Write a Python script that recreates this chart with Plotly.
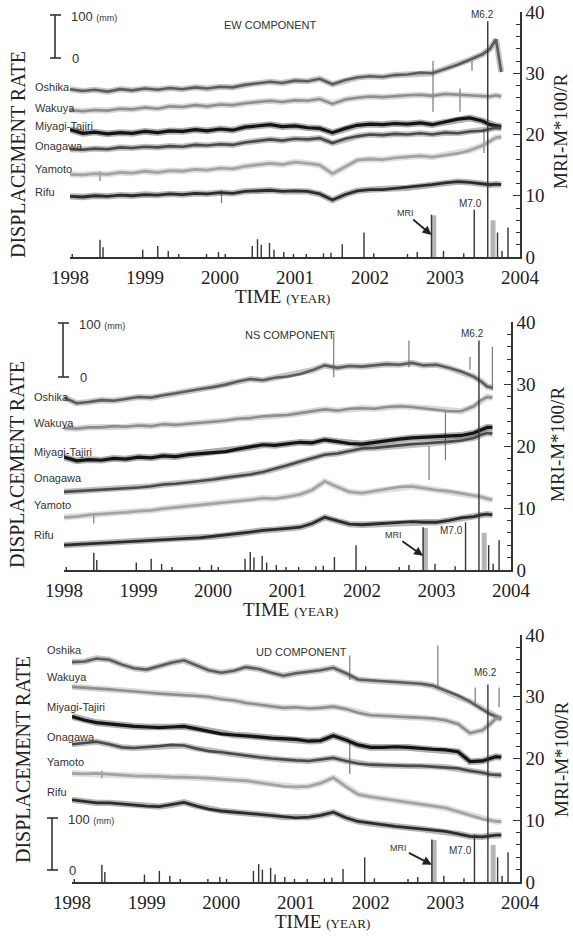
import plotly.graph_objects as go

W, H = 573, 936
SERIF = "Liberation Serif"
SANS = "Liberation Sans"

# Sampling epochs (decimal years) of the displacement-rate records
YEARS = [1998.00, 1998.17, 1998.33, 1998.50, 1998.67, 1998.83,
         1999.00, 1999.17, 1999.33, 1999.50, 1999.67, 1999.83,
         2000.00, 2000.17, 2000.33, 2000.50, 2000.67, 2000.83,
         2001.00, 2001.17, 2001.33, 2001.50, 2001.67, 2001.83,
         2002.00, 2002.17, 2002.33, 2002.50, 2002.67, 2002.83,
         2003.00, 2003.17, 2003.33, 2003.50, 2003.60, 2003.68, 2003.75]

STATIONS = ["Oshika", "Wakuya", "Miyagi-Tajiri", "Onagawa", "Yamoto", "Rifu"]
STATION_COLORS = ["#5c5c5c", "#8e8e8e", "#141414", "#4a4a4a", "#a3a3a3", "#2c2c2c"]
STATION_WIDTHS = [2.6, 2.6, 3.2, 2.6, 2.8, 2.8]

# EW component (offset traces, plotted on the MRI-M*100/R scale)
EW_OSHIKA = [27.4, 27.1, 27.3, 27.0, 27.4, 27.2, 27.5, 27.3, 27.6, 27.4, 27.7, 27.5,
             27.8, 27.7, 28.1, 28.3, 28.6, 28.4, 28.8, 28.7, 29.1, 28.2, 28.9, 29.3,
             29.5, 29.4, 29.7, 29.8, 30.1, 30.0, 30.7, 31.4, 32.2, 33.1, 34.0, 35.5, 30.2]
EW_WAKUYA = [24.0, 23.8, 24.0, 23.9, 24.2, 24.1, 24.4, 24.2, 24.6, 24.5, 24.8, 24.6,
             24.9, 24.8, 25.1, 25.3, 25.5, 25.3, 25.6, 25.5, 25.8, 25.0, 25.7, 26.0,
             26.2, 26.1, 26.3, 26.4, 26.5, 26.3, 26.6, 26.5, 26.4, 26.3, 26.2, 26.4, 26.2]
EW_MIYAGI = [20.8, 20.2, 20.4, 20.1, 20.3, 20.2, 20.5, 20.3, 20.6, 20.5, 20.8, 20.6,
             20.9, 20.7, 21.2, 21.4, 21.6, 21.3, 21.4, 21.1, 21.0, 20.3, 21.0, 21.5,
             21.7, 21.6, 21.8, 21.7, 21.9, 21.6, 22.0, 22.5, 22.7, 22.2, 21.6, 21.4, 21.3]
EW_ONAGAWA = [17.6, 17.5, 17.7, 17.6, 17.9, 17.8, 18.0, 17.9, 18.1, 18.0, 18.3, 18.2,
              18.4, 18.3, 18.7, 18.9, 19.2, 19.0, 19.3, 19.2, 19.4, 18.6, 19.3, 19.7,
              20.0, 19.9, 20.1, 20.0, 20.2, 20.0, 20.3, 20.2, 20.5, 20.6, 20.9, 21.1, 21.0]
EW_YAMOTO = [13.5, 13.4, 13.6, 13.5, 13.8, 13.7, 14.0, 13.8, 14.1, 14.0, 14.3, 14.2,
             14.5, 14.4, 14.8, 15.0, 15.3, 15.1, 15.5, 15.3, 15.0, 13.6, 14.8, 15.8,
             16.0, 15.9, 16.2, 16.3, 16.5, 16.3, 16.6, 16.9, 17.4, 18.2, 18.9, 19.5, 19.6]
EW_RIFU = [9.9, 9.8, 10.0, 9.9, 10.1, 10.0, 10.2, 10.1, 10.3, 10.2, 10.4, 10.3,
           10.5, 10.4, 10.7, 10.8, 10.9, 10.7, 10.8, 10.7, 10.3, 9.3, 10.2, 10.8,
           11.0, 11.0, 11.2, 11.3, 11.6, 11.8, 12.1, 12.3, 12.2, 11.9, 11.8, 11.9, 11.8]

# NS component
NS_OSHIKA = [27.8, 26.9, 27.1, 27.4, 27.3, 27.6, 27.9, 27.8, 28.2, 28.5, 28.9, 29.2,
             29.5, 29.9, 30.4, 30.8, 30.6, 31.0, 31.2, 31.6, 32.2, 33.0, 32.6, 32.9,
             32.8, 33.0, 33.2, 33.1, 33.4, 33.0, 33.1, 32.6, 32.0, 31.2, 30.4, 29.6, 29.4]
NS_WAKUYA = [22.9, 22.8, 23.0, 23.0, 23.2, 23.1, 23.3, 23.2, 23.5, 23.4, 23.6, 23.7,
             23.9, 24.1, 24.4, 24.5, 24.8, 24.9, 25.0, 25.3, 25.6, 25.9, 25.7, 26.0,
             26.1, 26.0, 26.3, 26.4, 26.3, 26.1, 25.9, 25.6, 25.6, 26.4, 27.4, 27.9, 27.8]
NS_MIYAGI = [18.2, 17.6, 17.8, 17.7, 18.0, 17.9, 18.2, 18.1, 18.4, 18.3, 18.6, 18.8,
             18.9, 19.1, 19.5, 19.8, 20.2, 20.1, 20.4, 20.6, 20.5, 21.0, 20.7, 20.4,
             20.3, 20.6, 20.9, 21.1, 21.3, 21.4, 21.5, 21.6, 21.7, 22.1, 22.6, 23.0, 23.0]
NS_ONAGAWA = [12.6, 12.7, 12.9, 13.0, 13.0, 13.1, 13.3, 13.5, 13.8, 13.9, 14.1, 14.3,
              14.6, 14.9, 15.1, 15.4, 15.8, 16.3, 16.9, 17.5, 18.0, 18.6, 18.8, 19.2,
              19.6, 19.7, 19.9, 20.1, 20.3, 20.4, 20.5, 20.7, 20.9, 21.3, 21.8, 22.1, 22.0]
NS_YAMOTO = [8.5, 8.6, 8.9, 9.0, 9.2, 9.3, 9.5, 9.6, 9.9, 10.1, 10.3, 10.5,
             10.7, 10.9, 11.1, 11.3, 11.6, 11.5, 11.8, 12.2, 12.9, 14.3, 13.4, 12.6,
             12.4, 12.7, 13.0, 13.4, 13.5, 13.2, 12.9, 12.7, 12.4, 12.1, 11.8, 11.5, 11.3]
NS_RIFU = [4.0, 4.1, 4.3, 4.4, 4.5, 4.5, 4.6, 4.8, 4.9, 5.0, 5.1, 5.2,
           5.4, 5.6, 5.9, 6.1, 6.4, 6.5, 6.7, 6.9, 7.5, 8.5, 7.9, 7.4,
           7.3, 7.4, 7.6, 7.7, 7.8, 7.7, 7.7, 8.0, 8.4, 8.6, 8.9, 9.0, 8.9]

# UD component
UD_OSHIKA = [35.6, 35.7, 36.2, 36.0, 35.2, 34.6, 34.4, 35.0, 35.5, 35.9, 35.1, 34.3,
             33.9, 34.2, 34.8, 34.5, 33.9, 33.4, 33.8, 34.0, 34.3, 34.7, 33.8, 32.8,
             32.6, 32.5, 32.4, 32.3, 32.1, 31.8, 31.0, 30.2, 29.2, 28.0, 27.2, 26.8, 26.4]
UD_WAKUYA = [31.6, 31.5, 31.4, 31.2, 31.0, 30.9, 30.7, 30.5, 30.4, 30.3, 30.2, 30.0,
             29.6, 29.4, 29.0, 28.7, 28.4, 28.2, 28.3, 28.1, 28.2, 28.4, 28.0, 27.4,
             27.0, 26.9, 26.7, 26.7, 26.6, 26.5, 26.2, 25.6, 24.1, 24.6, 25.6, 26.5, 26.6]
UD_MIYAGI = [26.8, 26.2, 25.8, 25.6, 25.3, 25.2, 25.1, 25.0, 25.1, 25.2, 24.8, 24.4,
             24.0, 23.8, 23.7, 23.5, 23.3, 23.2, 23.1, 22.8, 22.9, 23.7, 23.0, 22.2,
             21.8, 21.8, 21.9, 21.8, 21.6, 21.5, 21.4, 21.1, 19.5, 19.6, 20.0, 20.3, 20.2]
UD_ONAGAWA = [22.3, 22.5, 22.7, 22.3, 21.8, 21.7, 21.8, 22.0, 22.2, 22.1, 21.6, 21.2,
              21.0, 20.7, 20.4, 20.2, 20.0, 19.8, 19.7, 19.6, 19.8, 20.1, 19.6, 19.2,
              19.0, 18.9, 18.9, 18.8, 18.8, 18.7, 18.6, 18.4, 18.0, 17.7, 17.4, 17.3, 17.3]
UD_YAMOTO = [17.6, 17.5, 17.6, 17.4, 17.3, 17.2, 17.2, 17.1, 17.0, 17.0, 16.9, 16.8,
             16.6, 16.5, 16.4, 16.1, 15.8, 15.5, 15.4, 15.5, 16.0, 16.9, 15.4, 14.2,
             13.8, 13.5, 13.2, 13.0, 12.7, 12.4, 12.0, 11.4, 10.8, 10.2, 10.0, 9.8, 9.8]
UD_RIFU = [13.3, 13.0, 12.8, 12.8, 12.6, 12.4, 12.3, 12.2, 12.5, 12.9, 12.3, 11.8,
           11.5, 11.3, 11.2, 11.0, 10.8, 10.5, 10.4, 10.5, 10.8, 11.3, 10.4, 9.8,
           9.5, 9.2, 9.0, 8.8, 8.6, 8.4, 8.2, 7.8, 7.4, 7.3, 7.5, 7.6, 7.6]

# Short transient excursions in the records: epoch, low, high
EW_SPIKES_T = [1998.40, 2000.02, 2002.84, 2003.20, 2003.36, 2003.52]
EW_SPIKES_LO = [12.4, 8.8, 23.7, 23.7, 30.4, 17.0]
EW_SPIKES_HI = [14.0, 10.9, 32.0, 27.5, 32.0, 21.0]
NS_SPIKES_T = [1998.40, 2001.62, 2002.63, 2002.90, 2003.12, 2003.45, 2003.75]
NS_SPIKES_LO = [7.5, 31.1, 32.7, 14.5, 17.7, 32.3, 29.0]
NS_SPIKES_HI = [9.2, 38.2, 37.0, 20.0, 25.5, 34.4, 36.0]
UD_SPIKES_T = [1998.40, 2001.72, 2001.72, 2002.90, 2003.40, 2003.72]
UD_SPIKES_LO = [16.8, 32.7, 17.5, 31.5, 29.0, 28.3]
UD_SPIKES_HI = [18.0, 36.7, 23.0, 38.3, 31.5, 31.5]

# Earthquake index MRI-M*100/R (event epochs and values)
EVENT_T = [1998.03, 1998.40, 1998.44, 1998.97, 1999.17, 1999.31, 1999.45, 1999.82,
           1999.98, 2000.07, 2000.43, 2000.50, 2000.55, 2000.66, 2000.72, 2000.85,
           2000.98, 2001.15, 2001.38, 2001.48, 2001.63, 2001.92, 2002.05, 2002.50,
           2002.63, 2002.82, 2002.98, 2003.25, 2003.39, 2003.70, 2003.76, 2003.84]
EVENT_H = [0.5, 2.8, 1.6, 1.2, 1.8, 1.0, 0.5, 0.5,
           0.8, 0.5, 1.8, 2.9, 2.0, 2.3, 1.2, 0.8,
           0.5, 0.5, 0.6, 0.7, 2.1, 4.0, 0.6, 0.5,
           0.8, 6.9, 1.0, 0.6, 7.7, 4.0, 1.0, 4.8]
SHADE_T = [2002.85, 2003.64]
SHADE_H = [6.8, 6.0]
M62_T = 2003.57
M62_TOP = [38.5, 37.0, 32.0]      # EW, NS, UD
MRI_T = 2002.82
MRI_ARROW_Y = [3.6, 2.3, 2.8]

COMPONENTS = [
    dict(title="EW COMPONENT",
         series=[EW_OSHIKA, EW_WAKUYA, EW_MIYAGI, EW_ONAGAWA, EW_YAMOTO, EW_RIFU],
         spikes=(EW_SPIKES_T, EW_SPIKES_LO, EW_SPIKES_HI)),
    dict(title="NS COMPONENT",
         series=[NS_OSHIKA, NS_WAKUYA, NS_MIYAGI, NS_ONAGAWA, NS_YAMOTO, NS_RIFU],
         spikes=(NS_SPIKES_T, NS_SPIKES_LO, NS_SPIKES_HI)),
    dict(title="UD COMPONENT",
         series=[UD_OSHIKA, UD_WAKUYA, UD_MIYAGI, UD_ONAGAWA, UD_YAMOTO, UD_RIFU],
         spikes=(UD_SPIKES_T, UD_SPIKES_LO, UD_SPIKES_HI)),
]

# Page layout of the three panels (pixels)
GEOM = [
    dict(x0=70, x1=520, top=12, bot=257,
         labels_x=33, labels_y=[87, 108, 126, 146, 169, 192],
         title_xy=(270, 25), scale=(55, 15, 58), ylab=(18, 155), rlab=(561, 132),
         time_xy=(282, 296), m62=(483, 15), m70=(470, 203), mri=(-26, -22)),
    dict(x0=64, x1=511, top=322, bot=570,
         labels_x=32, labels_y=[397, 423, 452, 478, 505, 535],
         title_xy=(290, 335), scale=(63, 323, 377), ylab=(17, 465), rlab=(557, 445),
         time_xy=(290, 609), m62=(472, 333), m70=(451, 530), mri=(-30, -21)),
    dict(x0=72, x1=520, top=635, bot=882,
         labels_x=45, labels_y=[650, 677, 707, 737, 762, 792],
         title_xy=(301, 652), scale=(52, 818, 870), ylab=(23, 760), rlab=(561, 760),
         time_xy=(322, 921), m62=(485, 672), m70=(460, 850), mri=(-33, -17)),
]


def px(x, y):
    return x / W, 1 - y / H


def segments(ts, lo, hi):
    xs, ys = [], []
    for t, a, b in zip(ts, lo, hi):
        xs += [t, t, None]
        ys += [a, b, None]
    return xs, ys


fig = go.Figure()
annotations = []
shapes = []
layout_axes = {}

for i, (comp, g) in enumerate(zip(COMPONENTS, GEOM)):
    n = "" if i == 0 else str(i + 1)
    xa, ya = "x" + n, "y" + n

    # transient excursions
    spx, spy = segments(*comp["spikes"])
    fig.add_trace(go.Scatter(x=spx, y=spy, mode="lines", line=dict(color="#7a7a7a", width=1.2),
                             xaxis=xa, yaxis=ya, showlegend=False, hoverinfo="skip"))

    # displacement-rate traces: a soft halo under each record gives the noisy band
    for name, vals, col, lw in zip(STATIONS, comp["series"], STATION_COLORS, STATION_WIDTHS):
        fig.add_trace(go.Scatter(x=YEARS, y=vals, mode="lines", opacity=0.35,
                                 line=dict(color=col, width=lw + 3.5), xaxis=xa, yaxis=ya,
                                 showlegend=False, hoverinfo="skip"))
        fig.add_trace(go.Scatter(x=YEARS, y=vals, mode="lines", name=name,
                                 line=dict(color=col, width=lw), xaxis=xa, yaxis=ya,
                                 showlegend=False, hoverinfo="skip"))

    # earthquake index bars
    bx, by = segments(EVENT_T + [M62_T], [0] * (len(EVENT_T) + 1), EVENT_H + [M62_TOP[i]])
    sx, sy = segments(SHADE_T, [0] * len(SHADE_T), SHADE_H)
    fig.add_trace(go.Scatter(x=sx, y=sy, mode="lines", line=dict(color="#b5b5b5", width=5),
                             xaxis=xa, yaxis=ya, showlegend=False, hoverinfo="skip"))
    fig.add_trace(go.Scatter(x=bx, y=by, mode="lines", line=dict(color="#333333", width=1.4),
                             xaxis=xa, yaxis=ya, showlegend=False, hoverinfo="skip"))

    xd0, _ = px(g["x0"], 0)
    xd1, _ = px(g["x1"], 0)
    _, yd1 = px(0, g["top"])
    _, yd0 = px(0, g["bot"])
    layout_axes["xaxis" + n] = dict(
        domain=[xd0, xd1], anchor=ya, range=[1998, 2004], automargin=False,
        tickvals=[1998, 1999, 2000, 2001, 2002, 2003, 2004],
        ticktext=["1998", "1999", "2000", "2001", "2002", "2003", "2004"],
        showline=True, linecolor="#333333", linewidth=1.6, ticks="",
        showgrid=False, zeroline=False,
        tickfont=dict(family=SERIF, size=19, color="#222222"), ticklabelstandoff=2)
    layout_axes["yaxis" + n] = dict(
        domain=[yd0, yd1], anchor=xa, side="right", range=[0, 40], automargin=False,
        tickvals=[0, 10, 20, 30, 40], ticktext=["0", "10", "20", "30", "40"],
        showline=True, linecolor="#333333", linewidth=1.6,
        ticks="inside", ticklen=7, tickwidth=1.3, tickcolor="#333333",
        minor=dict(ticks="inside", ticklen=4, dtick=2, tickwidth=1, tickcolor="#333333"),
        showgrid=False, zeroline=False,
        tickfont=dict(family=SERIF, size=19, color="#222222"))

    # station names
    for name, ly in zip(STATIONS, g["labels_y"]):
        x, y = px(g["labels_x"], ly)
        annotations.append(dict(x=x, y=y, xref="paper", yref="paper", text=name,
                                showarrow=False, xanchor="left", yanchor="middle",
                                font=dict(family=SANS, size=11, color="#333333")))

    # component title
    x, y = px(*g["title_xy"])
    annotations.append(dict(x=x, y=y, xref="paper", yref="paper", text=comp["title"],
                            showarrow=False, xanchor="center", yanchor="middle",
                            font=dict(family=SANS, size=11, color="#333333")))

    # 100 mm scale bar
    sxp, st, sb = g["scale"]
    for (a, b, c, d) in [(sxp, st, sxp, sb), (sxp - 5, st, sxp + 6, st), (sxp - 5, sb, sxp + 6, sb)]:
        p0, p1 = px(a, b), px(c, d)
        shapes.append(dict(type="line", xref="paper", yref="paper", x0=p0[0], y0=p0[1],
                           x1=p1[0], y1=p1[1], line=dict(color="#333333", width=1.6)))
    x, y = px(sxp + 14, st + 1)
    annotations.append(dict(x=x, y=y, xref="paper", yref="paper",
                            text="100 <span style='font-size:9px'>(mm)</span>",
                            showarrow=False, xanchor="left", yanchor="middle",
                            font=dict(family=SANS, size=13, color="#333333")))
    x, y = px(sxp + 15, sb)
    annotations.append(dict(x=x, y=y, xref="paper", yref="paper", text="0",
                            showarrow=False, xanchor="left", yanchor="middle",
                            font=dict(family=SANS, size=13, color="#333333")))

    # axis titles
    x, y = px(*g["ylab"])
    annotations.append(dict(x=x, y=y, xref="paper", yref="paper", text="DISPLACEMENT RATE",
                            showarrow=False, textangle=-90, xanchor="center", yanchor="middle",
                            font=dict(family=SERIF, size=20, color="#222222")))
    x, y = px(*g["rlab"])
    annotations.append(dict(x=x, y=y, xref="paper", yref="paper", text="MRI-M*100/R",
                            showarrow=False, textangle=-90, xanchor="center", yanchor="middle",
                            font=dict(family=SERIF, size=19, color="#222222")))
    x, y = px(*g["time_xy"])
    annotations.append(dict(x=x, y=y, xref="paper", yref="paper",
                            text="TIME <span style='font-size:13px'>(YEAR)</span>",
                            showarrow=False, xanchor="center", yanchor="middle",
                            font=dict(family=SERIF, size=19, color="#222222")))

    # event labels
    x, y = px(*g["m62"])
    annotations.append(dict(x=x, y=y, xref="paper", yref="paper", text="M6.2",
                            showarrow=False, xanchor="center", yanchor="middle",
                            font=dict(family=SANS, size=10, color="#333333")))
    x, y = px(*g["m70"])
    annotations.append(dict(x=x, y=y, xref="paper", yref="paper", text="M7.0",
                            showarrow=False, xanchor="center", yanchor="middle",
                            font=dict(family=SANS, size=10, color="#333333")))
    axo, ayo = g["mri"]
    annotations.append(dict(x=MRI_T, y=MRI_ARROW_Y[i], xref=xa, yref=ya, text="MRI",
                            showarrow=True, arrowhead=2, arrowsize=1, arrowwidth=1.8,
                            arrowcolor="#222222", ax=axo, ay=ayo,
                            font=dict(family=SANS, size=9, color="#333333")))

fig.update_layout(
    width=W, height=H, margin=dict(l=0, r=0, t=0, b=0),
    paper_bgcolor="white", plot_bgcolor="white",
    annotations=annotations, shapes=shapes, **layout_axes)

fig.write_html("out.html")
